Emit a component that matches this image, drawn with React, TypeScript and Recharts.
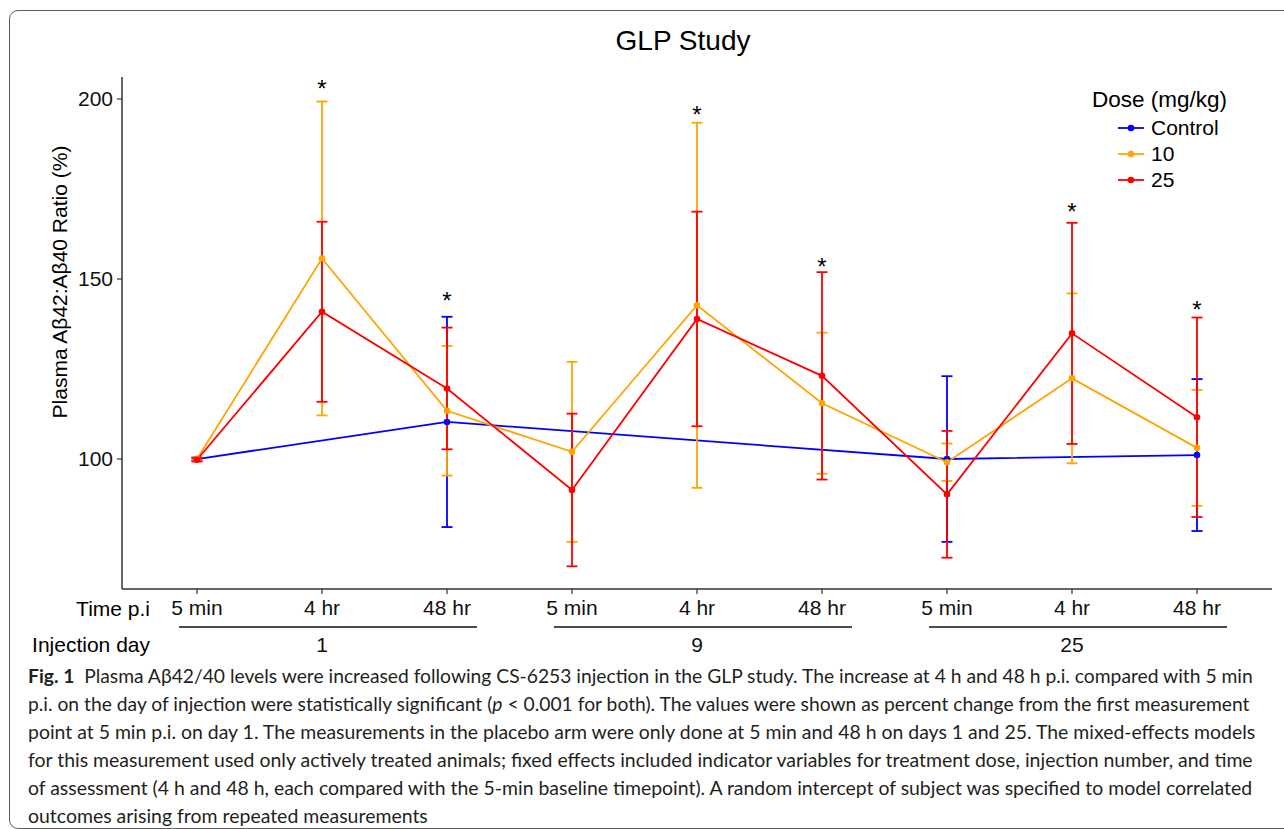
import React, { useLayoutEffect, useRef, useState } from "react";
import { ComposedChart, Line, ErrorBar, XAxis, YAxis, Scatter } from "recharts";

// x positions: three time points on each of three injection days
const positions = [1, 2, 3, 4, 5, 6, 7, 8, 9];
const timeLabels = ["5 min", "4 hr", "48 hr", "5 min", "4 hr", "48 hr", "5 min", "4 hr", "48 hr"];
const dayCenters = [2, 5, 8];
const dayLabels = ["1", "9", "25"];

// mean ± SD, percent of the day-1 5 min value (placebo only sampled on days 1 and 25)
const controlMean = [100, null, 110.3, null, null, null, 100, null, 101.1];
const controlSd = [0.4, null, 29.2, null, null, null, 23.0, null, 21.1];
const dose10Mean = [100, 155.7, 113.4, 102.0, 142.7, 115.5, 99.1, 122.4, 103.1];
const dose10Sd = [0.5, 43.6, 18.0, 25.0, 50.7, 19.6, 5.2, 23.6, 16.1];
const dose25Mean = [99.8, 140.9, 119.6, 91.4, 138.9, 123.1, 90.2, 134.9, 111.6];
const dose25Sd = [0.5, 25.0, 16.9, 21.2, 29.8, 28.8, 17.6, 30.7, 27.7];

// significance markers (p < 0.001)
const starPositions = [2, 3, 5, 6, 8, 9];
const starLevels = [204.2, 145.3, 196.9, 154.7, 170.0, 142.8];

const yTicks = [100, 150, 200];

const series = [
  { key: "control", err: "controlSd", name: "Control", color: "#0000FF" },
  { key: "dose10", err: "dose10Sd", name: "10", color: "#FFA500" },
  { key: "dose25", err: "dose25Sd", name: "25", color: "#FF0000" },
];

const rows = positions.map((pos, i) => ({
  pos,
  control: controlMean[i],
  controlSd: controlSd[i],
  dose10: dose10Mean[i],
  dose10Sd: dose10Sd[i],
  dose25: dose25Mean[i],
  dose25Sd: dose25Sd[i],
}));

const stars = starPositions.map((pos, i) => ({ pos, level: starLevels[i] }));

const FONT = "'Liberation Sans', Arial, sans-serif";

const captionLines = [
  "point at 5 min p.i. on day 1. The measurements in the placebo arm were only done at 5 min and 48 h on days 1 and 25. The mixed-effects models",
  "for this measurement used only actively treated animals; fixed effects included indicator variables for treatment dose, injection number, and time",
  "of assessment (4 h and 48 h, each compared with the 5-min baseline timepoint). A random intercept of subject was specified to model correlated",
  "outcomes arising from repeated measurements",
];
const captionLineLengths = [1228, 1225, 1225, 400];

// squeezes a caption line horizontally so it fills the given width
function FitLine({ x, y, width, children }: { x: number; y: number; width: number; children: React.ReactNode }) {
  const ref = useRef<SVGTextElement>(null);
  const [sx, setSx] = useState(1);
  useLayoutEffect(() => {
    const w = ref.current ? ref.current.getBBox().width : 0;
    if (w > 0) setSx(width / w);
  }, [width]);
  return (
    <text ref={ref} transform={`translate(${x} ${y}) scale(${sx} 1)`}>
      {children}
    </text>
  );
}

function TimeTick(props: any) {
  const { x, y, payload } = props;
  const i = positions.indexOf(payload.value);
  const g = dayCenters.indexOf(payload.value);
  return (
    <g>
      <text x={x} y={y + 15} textAnchor="middle" fontSize={21} fontFamily={FONT} fill="#111">
        {timeLabels[i]}
      </text>
      {g >= 0 && (
        <g>
          <line x1={x - 143} x2={x + 155} y1={y + 27} y2={y + 27} stroke="#111" strokeWidth={1.5} />
          <text x={x} y={y + 52} textAnchor="middle" fontSize={21} fontFamily={FONT} fill="#111">
            {dayLabels[g]}
          </text>
        </g>
      )}
    </g>
  );
}

function Star(props: any) {
  const { cx, cy } = props;
  return (
    <text x={cx} y={cy + 13} textAnchor="middle" fontSize={24} fontFamily={FONT} fill="#000">
      *
    </text>
  );
}

export default function App() {
  return (
    <div
      style={{
        position: "fixed",
        left: 0,
        top: 0,
        width: 1284,
        height: 829,
        overflow: "hidden",
        background: "#fff",
      }}
    >
      <div
        style={{
          position: "absolute",
          left: 9,
          top: 10,
          width: 1400,
          height: 817,
          border: "1.4px solid #5e5e5e",
          borderRadius: 9,
        }}
      />
      <div style={{ position: "absolute", left: 0, top: 0 }}>
        <ComposedChart
          width={1284}
          height={680}
          data={rows}
          margin={{ top: 77, right: 12, bottom: 21, left: 62 }}
        >
          <XAxis
            dataKey="pos"
            type="number"
            domain={[0.4, 9.6]}
            ticks={positions}
            interval={0}
            tickSize={5}
            tickMargin={6}
            height={70}
            stroke="#333"
            axisLine={{ stroke: "#333", strokeWidth: 1.5 }}
            tickLine={{ stroke: "#333", strokeWidth: 1.2 }}
            tick={<TimeTick />}
          />
          <YAxis
            type="number"
            domain={[63.9, 206.1]}
            allowDataOverflow
            ticks={yTicks}
            width={60}
            tickSize={5}
            tickMargin={4}
            stroke="#333"
            axisLine={{ stroke: "#333", strokeWidth: 1.5 }}
            tickLine={{ stroke: "#333", strokeWidth: 1.2 }}
            tick={{ fontSize: 21, fontFamily: FONT, fill: "#111" }}
          />
          {series.map((s) => (
            <Line
              key={s.key}
              dataKey={s.key}
              name={s.name}
              stroke={s.color}
              strokeWidth={1.8}
              connectNulls
              dot={{ r: 3.3, fill: s.color, stroke: "none" }}
              activeDot={false}
              isAnimationActive={false}
            >
              <ErrorBar dataKey={s.err} direction="y" width={5.5} stroke={s.color} strokeWidth={1.8} />
            </Line>
          ))}
          <Scatter data={stars} dataKey="level" shape={<Star />} isAnimationActive={false} />
        </ComposedChart>
      </div>

      <svg
        width={1284}
        height={680}
        style={{ position: "absolute", left: 0, top: 0, pointerEvents: "none" }}
        fontFamily={FONT}
      >
        <text x={683} y={50} textAnchor="middle" fontSize={28} fill="#000">
          GLP Study
        </text>
        <text
          x={67}
          y={282}
          textAnchor="middle"
          fontSize={21}
          fill="#000"
          transform="rotate(-90 67 282)"
        >
          Plasma Aβ42:Aβ40 Ratio (%)
        </text>
        <text x={150} y={616} textAnchor="end" fontSize={21} fill="#000">
          Time p.i
        </text>
        <text x={150} y={652} textAnchor="end" fontSize={21} fill="#000">
          Injection day
        </text>
        <text x={1092} y={107} fontSize={22.5} fill="#000">
          Dose (mg/kg)
        </text>
        {series.map((s, i) => (
          <g key={s.key}>
            <line x1={1118} x2={1144} y1={128 + i * 26} y2={128 + i * 26} stroke={s.color} strokeWidth={1.8} />
            <circle cx={1131} cy={128 + i * 26} r={3.3} fill={s.color} />
            <text x={1151} y={135 + i * 26} fontSize={21} fill="#000">
              {s.name}
            </text>
          </g>
        ))}
      </svg>

      <svg
        width={1284}
        height={179}
        style={{ position: "absolute", left: 0, top: 650 }}
        fontFamily="Lato, 'Open Sans', sans-serif"
        fontSize={19.5}
        fill="#231f20"
      >
        <FitLine x={28} y={33} width={1225}>
          <tspan fontWeight="bold">Fig. 1</tspan>
          {"\u00a0\u00a0Plasma Aβ42/40 levels were increased following CS-6253 injection in the GLP study. The increase at 4 h and 48 h p.i. compared with 5 min"}
        </FitLine>
        <FitLine x={28} y={61} width={1222}>
          {"p.i. on the day of injection were statistically significant ("}
          <tspan fontStyle="italic">p</tspan>
          {"\u00a0< 0.001 for both). The values were shown as percent change from the first measurement"}
        </FitLine>
        {captionLines.map((line, i) => (
          <FitLine key={i} x={28} y={89 + i * 28} width={captionLineLengths[i]}>
            {line}
          </FitLine>
        ))}
      </svg>
    </div>
  );
}
